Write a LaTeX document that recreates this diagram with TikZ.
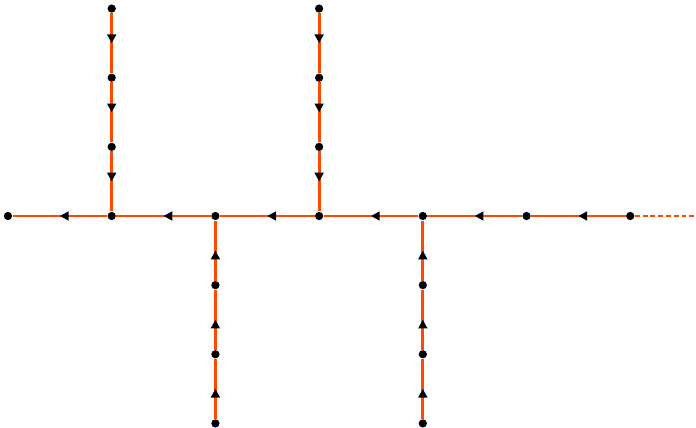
\documentclass[tikz,border=0pt]{standalone}
\usetikzlibrary{arrows.meta,decorations.markings}
\definecolor{roadcol}{RGB}{255,72,0}
\tikzset{
    dot/.style={circle,fill=black,inner sep=0pt,minimum size=3.4pt},
    road/.style={draw=roadcol,line width=1.2pt,postaction={decorate},
        decoration={markings,mark=at position 0.5 with {\arrow[black]{Triangle[length=3.6pt,width=3.6pt]}}}},
}
\begin{document}
\begin{tikzpicture}[x=1.5cm,y=1cm]
        \useasboundingbox (-0.077,-3.052) rectangle (6.634,3.124);
        % main line
        \foreach \i in {0,...,6} {
             \node[dot] (h\i) at (\i,0) {};
        }
        \foreach \i [count=\j from 0] in {1,...,6} {
             \draw[road] (h\i) -- (h\j);
        }
        \coordinate (hend) at (6.634,0);
        \draw[roadcol,line width=1.2pt,dash pattern=on 2pt off 1.2pt] (h6) -- (hend);
        % branches above
        \foreach \x in {1,3} {
             \foreach \k in {1,2,3} {
                  \node[dot] (u\x\k) at (\x,\k) {};
             }
             \draw[road] (u\x3) -- (u\x2);
             \draw[road] (u\x2) -- (u\x1);
             \draw[road] (u\x1) -- (h\x);
        }
        % branches below
        \foreach \x in {2,4} {
             \foreach \k in {1,2,3} {
                  \node[dot] (d\x\k) at (\x,-\k) {};
             }
             \draw[road] (d\x3) -- (d\x2);
             \draw[road] (d\x2) -- (d\x1);
             \draw[road] (d\x1) -- (h\x);
        }
    \end{tikzpicture}
\end{document}
